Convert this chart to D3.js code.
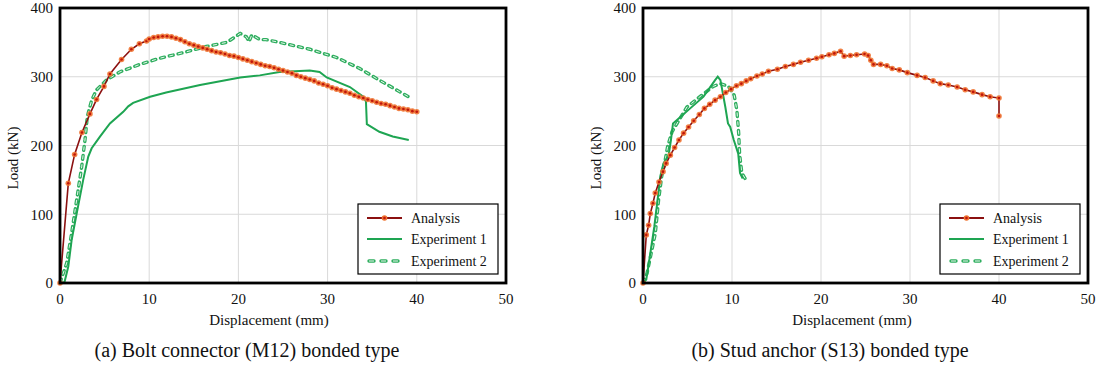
<!DOCTYPE html>
<html>
<head>
<meta charset="utf-8">
<script src="https://cdn.jsdelivr.net/npm/d3@7"></script>
<style>
  body { margin: 0; background: #fff; }
</style>
</head>
<body>
<svg width="1099" height="366"></svg>
<script>
// ---- data: [displacement mm, load kN] ----
var boltAnalysis = [[0,0],[0.93,145],[1.64,187],[2.46,219],[3.36,246],[4.1,267],[4.93,286],[5.6,304],
  [6.9,325],[8.0,340],[8.9,348],[9.7,352],[10,355],[10.5,357],[11,358],[11.5,359],[12,359],[12.5,358],
  [13,356],[13.5,354],[14,351],[14.5,348],[15,346],[15.5,344],[16,342],[16.5,340],[17,338],[17.5,336],
  [18,335],[18.5,333],[19,331],[19.5,330],[20,328],[20.5,326],[21,324],[21.5,322],[22,320],[22.5,318],
  [23,316],[23.5,315],[24,313],[24.5,311],[25,309],[25.5,307],[26,305],[26.5,302],[27,300],[27.5,298],
  [28,296],[28.5,294],[29,291],[29.5,289],[30,287],[30.5,284],[31,282],[31.5,280],[32,278],[32.5,276],
  [33,273],[33.5,271],[34,269],[34.5,267],[35,265],[35.5,263],[36,261],[36.5,260],[37,258],[37.5,256],
  [38,254],[38.5,253],[39,252],[39.5,250],[40,249]];
var boltExp1 = [[0,0],[0.5,1],[0.93,24],[1.3,62],[1.87,101],[2.6,150],[3.17,184],[3.55,196],[4.48,213],
  [5.6,232],[7.09,249],[7.65,257],[8.2,262],[10.1,271],[11.9,277],[15.7,288],[20.2,299],[22.4,302],
  [24.6,307],[28,309],[29.1,307],[29.9,299],[32.5,285],[34,271],[34.3,264],[34.4,231],[35.8,220],
  [37.3,213],[39.1,208]];
var boltExp2 = [[0,0],[0.75,29],[1.3,72],[1.87,121],[2.43,169],[2.8,208],[3.06,242],[3.55,266],[4.1,281],
  [5.2,295],[6.7,307],[8.96,318],[11.2,327],[13.8,335],[16.4,344],[18.7,350],[19.4,356],[20.2,363],
  [20.9,358],[21.2,351],[21.5,361],[22.4,354],[23.1,354],[24.6,350],[28,340],[31,328],[33.6,312],
  [35.8,295],[38.1,278],[39.2,270]];

var studAnalysis = [[0,0],[0.37,70],[0.63,84],[0.82,101],[1.12,116],[1.38,131],[1.8,147],[2.25,162],
  [2.6,174],[3.07,186],[3.55,197],[4.04,208],[4.56,218],[5.12,227],[5.7,236],[6.33,245],[6.9,254],
  [7.5,260],[8.1,266],[8.7,271],[9.3,277],[9.9,282],[10.5,287],[11.05,290],[11.6,294],[12.1,297],
  [12.8,301],[13.4,304],[14.1,308],[15.1,311],[16,315],[16.9,318],[17.7,321],[18.6,324],[19.5,327],
  [20.1,329],[20.9,332],[21.5,334],[22.2,337],[22.6,330],[23.3,331],[24,332],[24.9,333],[25.3,331],
  [25.6,324],[25.9,318],[26.7,318],[27.4,316],[28,312],[28.8,310],[29.7,306],[30.8,302],[31.7,299],
  [32.6,294],[33.4,290],[34.3,288],[35.3,285],[36.2,281],[37.1,278],[38.1,274],[39,271],[40,269],[40,243]];
var studExp1 = [[0,0],[0.37,5],[0.82,43],[1.27,82],[1.64,121],[1.94,155],[2.3,174],[2.88,186],[3.14,208],
  [3.37,232],[3.82,237],[5.3,254],[6.8,271],[8.1,295],[8.4,300],[8.7,295],[9.25,256],[9.55,232],
  [9.8,227],[10.2,208],[10.7,188],[10.9,160],[11.2,152]];
var studExp2 = [[0,0],[0.45,14],[1.38,72],[1.75,121],[2.1,155],[2.5,179],[2.76,198],[3.26,220],[3.82,232],
  [4.94,256],[6.4,271],[7.9,286],[8.7,290],[9.6,286],[10.25,273],[10.55,251],[10.75,218],[10.85,188],
  [11.1,160],[11.7,147]];

var xTicks = [0, 10, 20, 30, 40, 50];
var yTicks = [0, 100, 200, 300, 400];
var seriesNames = ["Analysis", "Experiment 1", "Experiment 2"];
var captions = ["(a) Bolt connector (M12) bonded type", "(b) Stud anchor (S13) bonded type"];

var redLine = "#8b1010", orange = "#f07432", green1 = "#1ea552", green2 = "#2fae5f";
var serif = "'Liberation Serif', 'DejaVu Serif', serif";

var svg = d3.select("svg");

function label(g, x, y, txt, size, anchor) {
  return g.append("text").attr("x", x).attr("y", y).attr("dy", "0.35em")
    .attr("text-anchor", anchor || "middle")
    .style("font-family", serif).style("font-size", size + "px").style("fill", "#111")
    .text(txt);
}

function panel(left, right, analysis, exp1, exp2, caption) {
  var x = d3.scaleLinear().domain([0, 50]).range([left, right]);
  var y = d3.scaleLinear().domain([0, 400]).range([283, 8]);
  var g = svg.append("g");

  // grid
  g.selectAll(".gx").data(xTicks.slice(1, -1)).enter().append("line")
    .attr("x1", x).attr("x2", x).attr("y1", y(0)).attr("y2", y(400))
    .attr("stroke", "#d9d9d9").attr("stroke-width", 1);
  g.selectAll(".gy").data(yTicks.slice(1, -1)).enter().append("line")
    .attr("y1", y).attr("y2", y).attr("x1", x(0)).attr("x2", x(50))
    .attr("stroke", "#d9d9d9").attr("stroke-width", 1);

  // tick labels
  xTicks.forEach(function(t) { label(g, x(t), 299, t, 15); });
  yTicks.forEach(function(t) { label(g, left - 7, y(t), t, 15, "end"); });

  label(g, left + 209, 320, "Displacement (mm)", 15);
  label(g, 0, 0, "Load (kN)", 15).attr("transform", "translate(" + (left - 47) + ",158) rotate(-90)");
  label(g, left + 187, 350, caption, 20);

  var line = d3.line().x(function(d) { return x(d[0]); }).y(function(d) { return y(d[1]); });

  // experiment 2: hollow dashes
  g.append("path").attr("d", line(exp2)).attr("fill", "none")
    .attr("stroke", green2).attr("stroke-width", 3.4).attr("stroke-linecap", "round")
    .attr("stroke-dasharray", "4,5");
  g.append("path").attr("d", line(exp2)).attr("fill", "none")
    .attr("stroke", "#fff").attr("stroke-width", 0.9).attr("stroke-dasharray", "4,5");

  // experiment 1
  g.append("path").attr("d", line(exp1)).attr("fill", "none")
    .attr("stroke", green1).attr("stroke-width", 2);

  // analysis
  g.append("path").attr("d", line(analysis)).attr("fill", "none")
    .attr("stroke", redLine).attr("stroke-width", 1.6);
  var m = g.selectAll(".mk").data(analysis).enter().append("g")
    .attr("transform", function(d) { return "translate(" + x(d[0]) + "," + y(d[1]) + ")"; });
  m.append("circle").attr("r", 2.8).attr("fill", orange).attr("opacity", 0.9);
  m.append("circle").attr("r", 1.3).attr("fill", "#c0150c");

  // frame
  g.append("rect").attr("x", x(0)).attr("y", y(400)).attr("width", x(50) - x(0)).attr("height", y(0) - y(400))
    .attr("fill", "none").attr("stroke", "#000").attr("stroke-width", 2.8);

  // legend
  var lx = right - 148, ly = 204;
  var lg = g.append("g");
  lg.append("rect").attr("x", lx).attr("y", ly).attr("width", 140).attr("height", 70)
    .attr("fill", "#fff").attr("stroke", "#000").attr("stroke-width", 1.2);
  var rows = [218, 239, 261];
  seriesNames.forEach(function(name, i) {
    var yy = rows[i];
    if (i === 0) {
      lg.append("line").attr("x1", lx + 9).attr("x2", lx + 44).attr("y1", yy).attr("y2", yy)
        .attr("stroke", redLine).attr("stroke-width", 2);
      lg.append("circle").attr("cx", lx + 26.5).attr("cy", yy).attr("r", 2.8).attr("fill", orange);
      lg.append("circle").attr("cx", lx + 26.5).attr("cy", yy).attr("r", 1.3).attr("fill", "#c0150c");
    } else if (i === 1) {
      lg.append("line").attr("x1", lx + 9).attr("x2", lx + 44).attr("y1", yy).attr("y2", yy)
        .attr("stroke", green1).attr("stroke-width", 2);
    } else {
      lg.append("line").attr("x1", lx + 11).attr("x2", lx + 44).attr("y1", yy).attr("y2", yy)
        .attr("stroke", green2).attr("stroke-width", 3.4).attr("stroke-linecap", "round")
        .attr("stroke-dasharray", "5,7");
      lg.append("line").attr("x1", lx + 11).attr("x2", lx + 44).attr("y1", yy).attr("y2", yy)
        .attr("stroke", "#fff").attr("stroke-width", 0.9).attr("stroke-dasharray", "5,7");
    }
    label(lg, lx + 53, yy, name, 14, "start");
  });
}

panel(60, 506, boltAnalysis, boltExp1, boltExp2, captions[0]);
panel(643, 1088, studAnalysis, studExp1, studExp2, captions[1]);
</script>
</body>
</html>
